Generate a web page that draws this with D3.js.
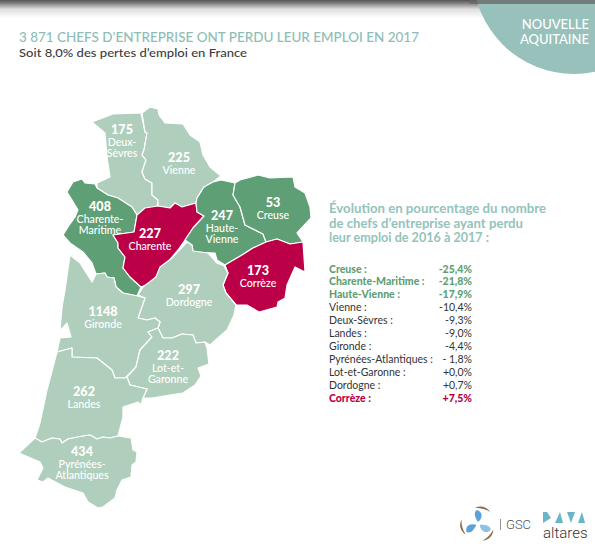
<!DOCTYPE html>
<html>
<head>
<meta charset="utf-8">
<script src="https://cdn.jsdelivr.net/npm/d3@7"></script>
<style>
html, body {margin:0; padding:0; background:#fff;}
svg {display:block;}
text {font-family:Lato, sans-serif;}
</style>
</head>
<body>
<svg id="chart" width="595" height="548"></svg>
<script>
// map data, same order everywhere
var departments = ["Deux-Sèvres","Vienne","Charente-Maritime","Charente","Haute-Vienne","Creuse","Corrèze","Dordogne","Gironde","Lot-et-Garonne","Landes","Pyrénées-Atlantiques"];
var losses = [175,225,408,227,247,53,173,297,1148,222,262,434];
var mapGroups = ["mid","mid","down","up","down","down","up","mid","mid","mid","mid","mid"];
var nameLines = [["Deux-","Sèvres"],["Vienne"],["Charente-","Maritime"],["Charente"],["Haute-","Vienne"],["Creuse"],["Corrèze"],["Dordogne"],["Gironde"],["Lot-et-","Garonne"],["Landes"],["Pyrénées-","Atlantiques"]];

// table on the right
var tableNames = ["Creuse","Charente-Maritime","Haute-Vienne","Vienne","Deux-Sèvres","Landes","Gironde","Pyrénées-Atlantiques","Lot-et-Garonne","Dordogne","Corrèze"];
var tableChanges = [-25.4,-21.8,-17.9,-10.4,-9.3,-9.0,-4.4,-1.8,0.0,0.7,7.5];
var tableLabels = ["-25,4%","-21,8%","-17,9%","-10,4%","-9,3%","-9,0%","-4,4%","- 1,8%","+0,0%","+0,7%","+7,5%"];

// department outlines in map units
var outlines = [
[[113,114],[141,113],[145,132],[147,133],[144,150],[142,155],[146,160],[142,172],[145,179],[152,183],[152,195],[158,200],[157,207],[137,215],[132,207],[118,198],[108,195],[97,188],[97,183],[110,177],[107,157],[105,133],[92,122]],
[[142,113],[150,107],[158,109],[159,115],[165,123],[183,124],[190,135],[200,142],[203,155],[210,167],[221,176],[213,182],[204,187],[197,198],[196,203],[182,207],[175,203],[170,208],[158,206],[158,200],[152,195],[152,183],[145,179],[142,172],[146,160],[142,155],[144,150],[147,133],[145,132]],
[[73,182],[82,179],[85,183],[95,184],[97,188],[108,195],[118,198],[132,207],[137,215],[134,232],[113,235],[118,243],[118,248],[125,257],[123,268],[130,277],[141,287],[137,296],[123,293],[116,287],[114,278],[107,277],[105,273],[96,274],[92,263],[83,252],[70,243],[63,235],[68,227],[75,217],[78,210],[72,200],[67,192]],
[[137,215],[145,208],[158,206],[170,208],[175,203],[182,207],[196,203],[197,212],[204,216],[193,228],[185,240],[178,250],[167,263],[158,273],[153,282],[141,287],[130,277],[123,268],[125,257],[118,248],[118,243],[113,235],[134,232]],
[[204,187],[213,182],[221,180],[235,183],[233,195],[240,207],[245,225],[263,234],[266,242],[253,248],[242,255],[225,265],[217,260],[215,253],[193,252],[192,245],[185,240],[193,228],[204,216],[197,212],[196,203],[197,198]],
[[235,183],[240,180],[258,175],[270,178],[293,177],[295,187],[305,193],[310,207],[311,218],[297,233],[303,242],[290,244],[277,239],[266,242],[263,234],[245,225],[240,207],[233,195]],
[[225,265],[242,255],[253,248],[266,242],[277,239],[290,244],[303,242],[305,272],[295,267],[287,285],[285,298],[278,302],[277,307],[259,312],[247,305],[236,305],[226,293],[223,285],[228,273]],
[[187,242],[192,245],[193,251],[208,253],[217,263],[224,266],[228,273],[223,285],[226,293],[236,305],[234,315],[227,330],[210,345],[205,342],[196,343],[193,335],[182,334],[172,338],[163,338],[158,328],[160,322],[155,318],[147,320],[138,318],[145,298],[138,295],[143,287],[156,277],[160,267],[172,258]],
[[70,255],[80,263],[92,282],[96,274],[105,273],[107,277],[114,278],[116,287],[123,293],[138,296],[145,298],[138,318],[147,320],[155,318],[160,322],[158,328],[148,332],[152,337],[140,350],[136,367],[125,378],[115,378],[112,370],[97,358],[72,357],[72,348],[57,352],[60,338],[71,337],[67,323],[60,331],[62,307],[65,290]],
[[158,328],[163,338],[172,338],[182,334],[193,335],[196,343],[205,342],[207,348],[209,364],[198,368],[201,376],[195,385],[183,393],[170,395],[152,398],[143,398],[147,389],[130,385],[127,377],[136,367],[140,350],[152,337],[148,332]],
[[57,352],[72,348],[72,357],[97,358],[112,370],[115,378],[125,378],[127,377],[130,385],[147,389],[143,398],[141,405],[138,402],[123,407],[123,417],[118,436],[110,438],[103,437],[97,439],[90,435],[83,436],[68,439],[62,443],[60,439],[52,438],[42,442],[35,438],[40,423],[47,390]],
[[35,438],[42,442],[52,438],[60,439],[62,443],[68,439],[83,436],[90,435],[97,439],[103,437],[110,438],[118,436],[131,438],[133,450],[137,452],[136,462],[132,465],[131,477],[122,480],[117,490],[115,498],[103,507],[98,508],[88,502],[83,493],[65,487],[48,478],[43,482],[37,480],[43,468],[40,462],[19,453]]
];

// where each label block sits, map units
var labelX = [122,179,100,150,222,273,258,189,103,168,84,82];
var labelY = [134,162,211,238,220,207,275,294,316,360,396,456];

var svg = d3.select("#chart");

// ---- top bar shadow
var defs = svg.append("defs");
var shade = defs.append("linearGradient").attr("id","shade").attr("x1",0).attr("x2",0).attr("y1",0).attr("y2",1);
shade.append("stop").attr("offset",0).attr("stop-color","#555");
shade.append("stop").attr("offset",0.15).attr("stop-color","#777");
shade.append("stop").attr("offset",0.5).attr("stop-color","#ddd");
shade.append("stop").attr("offset",1).attr("stop-color","#fff");
svg.append("rect").attr("width",595).attr("height",18).attr("fill","url(#shade)");

// ---- region badge
svg.append("circle").attr("cx",574).attr("cy",-27).attr("r",101).attr("fill","#98c1bc");
svg.append("rect").attr("x",470).attr("width",125).attr("height",4).attr("fill","#666").attr("opacity",0.75);
svg.selectAll(".badge").data(["NOUVELLE","AQUITAINE"]).enter().append("text")
 .attr("class","badge")
 .attr("x",589)
 .attr("y",function(d,i){return 28.5+i*15;})
 .attr("text-anchor","end")
 .attr("fill","#fff")
 .attr("font-size",13)
 .attr("font-weight",500)
 .text(function(d){return d;});

// ---- titles
svg.append("text").attr("x",19).attr("y",41.5).attr("fill","#8dbdb6").attr("font-size",14.2).attr("font-weight",500)
 .attr("textLength",400).attr("lengthAdjust","spacingAndGlyphs")
 .text("3 871 CHEFS D’ENTREPRISE ONT PERDU LEUR EMPLOI EN 2017");
svg.append("text").attr("x",19).attr("y",56.5).attr("fill","#3c3c3c").attr("font-size",12).attr("font-weight",500)
 .attr("textLength",228).attr("lengthAdjust","spacingAndGlyphs")
 .text("Soit 8,0% des pertes d’emploi en France");

// ---- map
var mapColor = d3.scaleOrdinal().domain(["mid","down","up"]).range(["#afcfbc","#5f9f75","#bb0048"]);
var projection = d3.geoIdentity();
var path = d3.geoPath(projection);

var shapes = departments.map(function(name,i){
 return {type:"Feature", properties:{name:name, i:i}, geometry:{type:"Polygon", coordinates:[outlines[i].concat([outlines[i][0]])]}};
});

svg.append("g").selectAll("path")
 .data(shapes)
 .enter()
 .append("path")
 .attr("d",path)
 .attr("fill",function(d){return mapColor(mapGroups[d.properties.i]);})
 .attr("stroke","#fff")
 .attr("stroke-width",1.2)
 .attr("stroke-linejoin","round");

var labels = svg.append("g").selectAll("g")
 .data(departments)
 .enter()
 .append("g")
 .attr("transform",function(d,i){return "translate("+labelX[i]+","+labelY[i]+")";})
 .attr("text-anchor","middle")
 .attr("fill","#fff");

labels.append("text")
 .attr("font-size",12.6)
 .attr("font-weight",900)
 .text(function(d,i){return losses[i];});

labels.each(function(d,i){
 d3.select(this).selectAll(".nm").data(nameLines[i]).enter().append("text")
  .attr("class","nm")
  .attr("y",function(l,k){return 12+k*10.5;})
  .attr("font-size",10.6)
  .attr("font-weight",500)
  .text(function(l){return l;});
});

// ---- heading of the table
var headLines = ["Évolution en pourcentage du nombre","de chefs d’entreprise ayant perdu","leur emploi de 2016 à 2017 :"];
var headWidths = [217,194,160];
svg.selectAll(".head")
 .data(headLines)
 .enter()
 .append("text")
 .attr("class","head")
 .attr("x",329)
 .attr("y",function(d,i){return 213+i*14.6;})
 .attr("fill","#93c3bb")
 .attr("font-size",13)
 .attr("font-weight",700)
 .attr("textLength",function(d,i){return headWidths[i];})
 .attr("lengthAdjust","spacingAndGlyphs")
 .text(function(d){return d;});

// ---- table
var rowY = d3.scalePoint().domain(tableNames).range([272.5,402]);
var rowColor = d3.scaleThreshold().domain([-15,5]).range(["#5f9f75","#333333","#bb0048"]);
var rowWeight = function(v){return (v<-15 || v>5) ? 900 : 400;};

var rows = svg.append("g").selectAll("g")
 .data(tableNames)
 .enter()
 .append("g")
 .attr("transform",function(d){return "translate(0,"+rowY(d)+")";})
 .attr("font-size",10.5);

rows.append("text")
 .attr("x",329)
 .attr("fill",function(d,i){return rowColor(tableChanges[i]);})
 .attr("font-weight",function(d,i){return rowWeight(tableChanges[i]);})
 .text(function(d){return d+" :";});

rows.append("text")
 .attr("x",472)
 .attr("text-anchor","end")
 .attr("fill",function(d,i){return rowColor(tableChanges[i]);})
 .attr("font-weight",function(d,i){return rowWeight(tableChanges[i]);})
 .text(function(d,i){return tableLabels[i];});

// ---- logos bottom right
var swirl = svg.append("g").attr("transform","translate(478,524)");
d3.range(3).forEach(function(k){
 var blade = swirl.append("g").attr("transform","rotate("+(k*120)+")");
 blade.append("path").attr("d","M0,-2C-3,-6 -5,-12 -1,-14C5,-12 5,-6 0,-2Z").attr("fill",k==1?"#8fc1e3":"#5ba3d6");
 blade.append("path").attr("d","M-3,-16C3,-19 9,-17 12,-12C8,-15 3,-16 -3,-16Z").attr("fill","#8a6a4c");
});
svg.append("rect").attr("x",500).attr("y",519).attr("width",0.8).attr("height",11).attr("fill","#777");
svg.append("text").attr("x",506).attr("y",528.5).attr("fill","#555").attr("font-size",13).style("font-family","Roboto").style("font-weight",300).text("GSC");
var dataMarks = ["M543,512H547L551,518L543,523Z","M555,523L560,512L563,523Z","M567,512H575L571,523Z","M578,523L582,512L585,523Z"];
svg.selectAll(".dm").data(dataMarks).enter().append("path").attr("class","dm").attr("d",function(d){return d;}).attr("fill","#6bb6c6");
svg.append("text").attr("x",543).attr("y",538).attr("fill","#333").attr("font-size",15).style("font-family","Roboto").style("font-weight",300).text("altares");
</script>
</body>
</html>
